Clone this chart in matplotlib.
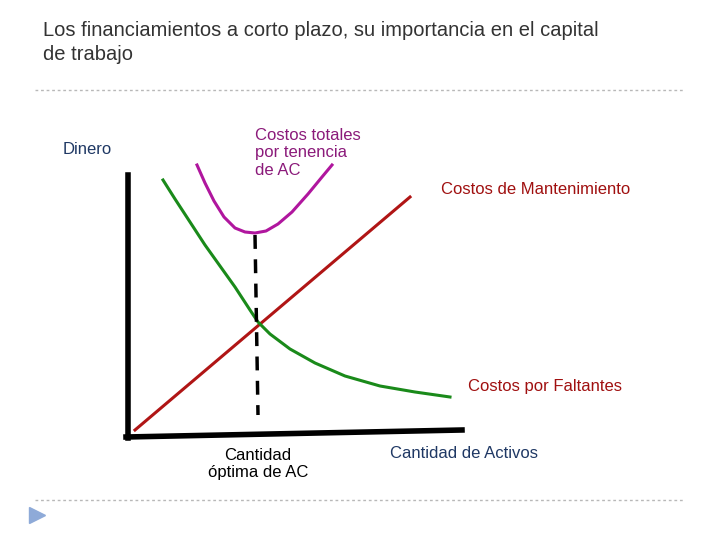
import matplotlib.pyplot as plt
import numpy as np

plt.rcParams['font.family'] = ['Liberation Sans', 'DejaVu Sans']

title_lines = ["Los financiamientos a corto plazo, su importancia en el capital", "de trabajo"]
green_x = [163, 175, 190, 205, 220, 235, 250, 258, 270, 290, 315, 345, 380, 415, 450]
green_y = [180, 199, 222, 245, 266, 287, 310, 322, 334, 349, 363, 376, 386, 392, 397]
mag_x = [197, 205, 214, 224, 235, 245, 255, 266, 278, 292, 308, 322, 332]
mag_y = [165, 183, 201, 217, 228, 232, 233, 231, 224, 212, 194, 177, 165]
red_x = [135, 410]
red_y = [430, 197]

def smooth(x, y):
    t = np.linspace(0, len(x) - 1, 200)
    idx = np.arange(len(x))
    return np.interp(t, idx, x), np.interp(t, idx, y)

fig = plt.figure(figsize=(7.2, 5.4), dpi=100)
ax = fig.add_axes([0, 0, 1, 1])
ax.set_xlim(0, 720); ax.set_ylim(540, 0); ax.axis('off')

ax.text(43, 30, title_lines[0], fontsize=14.5, color='#333333', va='center')
ax.text(43, 55, title_lines[1], fontsize=14.5, color='#333333', va='center')
for y in (90, 500):
    ax.plot([35, 685], [y, y], color='#b8b8b8', lw=1, ls=(0, (2, 2)))

ax.plot([128, 128], [175, 438], color='black', lw=4)
ax.plot([126, 462], [437, 430], color='black', lw=4)
ax.plot(red_x, red_y, color='#b01515', lw=2.2)
ax.plot(green_x, green_y, color='#1a8a1a', lw=2.2, solid_joinstyle='round')
ax.plot(mag_x, mag_y, color='#b0169e', lw=2.2, solid_joinstyle='round')
ax.plot([255, 258], [235, 415], color='black', lw=2.5, ls=(0, (4, 3)))

navy = '#1f3864'
ax.text(63, 150, "Dinero", fontsize=12, color=navy, va='center')
ax.text(255, 153, "Costos totales\npor tenencia\nde AC", fontsize=12, color='#8b1a7a', va='center', linespacing=1.2)
ax.text(441, 189, "Costos de Mantenimiento", fontsize=12, color='#a01010', va='center')
ax.text(468, 386, "Costos por Faltantes", fontsize=12, color='#a01010', va='center')
ax.text(258, 464, "Cantidad\nóptima de AC", fontsize=12, color='black', va='center', ha='center', linespacing=1.2)
ax.text(390, 453, "Cantidad de Activos", fontsize=12, color=navy, va='center')
ax.plot([37], [515], marker='>', color='#8eaad8', markersize=11)

fig.savefig('out.png', dpi=100)
